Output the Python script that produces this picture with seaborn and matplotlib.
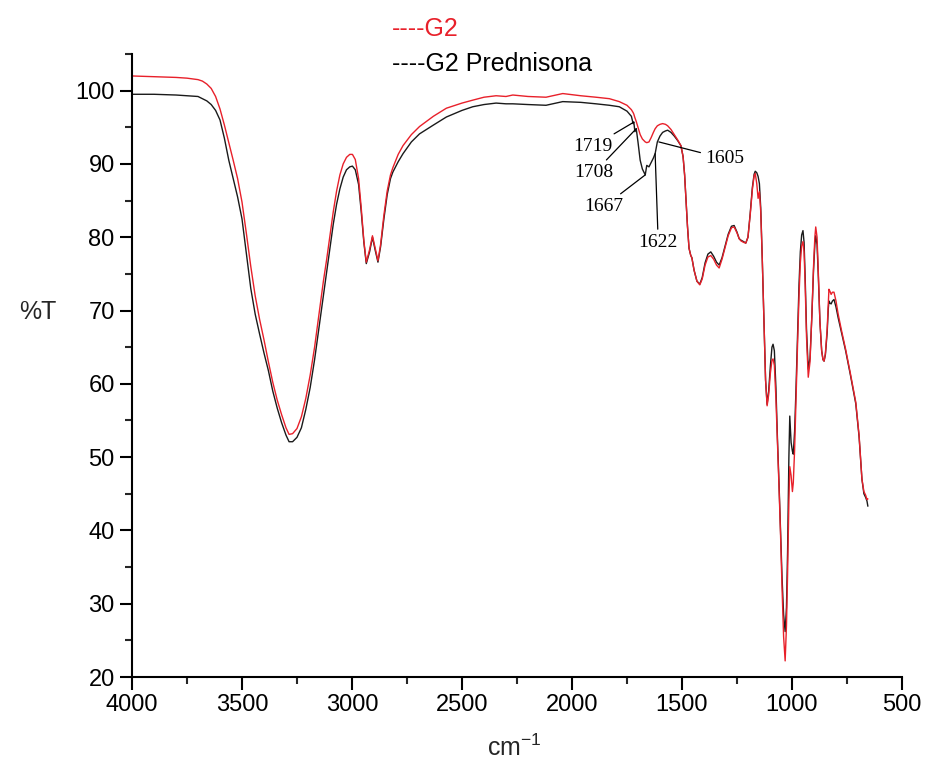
import numpy as np
import pandas as pd
import matplotlib
matplotlib.use('Agg')
import matplotlib.pyplot as plt
from matplotlib.ticker import MultipleLocator
import seaborn as sns

# IR spectra (wavenumber in cm-1, transmittance in %)
wavenumber = [4000, 3900, 3800, 3750, 3700, 3680, 3660, 3640, 3620, 3600,
              3580, 3560, 3540, 3520, 3500, 3480, 3460, 3440, 3420, 3400,
              3380, 3360, 3340, 3320, 3300, 3286, 3270, 3250, 3230, 3210,
              3190, 3170, 3150, 3130, 3115, 3100, 3085, 3070, 3055, 3040,
              3025, 3010, 2998,
              2985, 2970, 2958, 2946, 2935, 2920, 2907, 2895, 2882, 2870,
              2855, 2840, 2825, 2814, 2790, 2768, 2730, 2693,
              2630, 2571, 2500, 2451, 2400, 2345, 2300, 2269, 2200, 2118,
              2042, 1960, 1891, 1830, 1785, 1750, 1730,
              1722, 1719, 1714, 1708, 1700, 1690, 1680, 1667, 1660, 1650,
              1640, 1630, 1622, 1612, 1600, 1588, 1575, 1565, 1550, 1535,
              1520, 1505,
              1495, 1488, 1482, 1475, 1468, 1460, 1455, 1445, 1432, 1419,
              1408, 1395, 1382, 1369, 1356, 1343, 1331, 1318, 1305, 1290,
              1275, 1263, 1250, 1240, 1232, 1220, 1210, 1200, 1190, 1180,
              1172, 1167, 1160, 1154, 1148, 1142, 1135, 1127, 1120, 1113,
              1106, 1098, 1091, 1086, 1080, 1073, 1066, 1059, 1052, 1045,
              1038, 1031, 1025, 1020, 1014, 1010, 1004, 998, 994, 988,
              982, 975, 968, 962, 956, 950, 945, 940, 934, 926,
              918, 910, 902, 896, 892, 886, 880, 873, 865, 859,
              854, 848, 840, 835, 832, 827, 822, 816, 809, 800,
              790, 775, 756, 735, 710, 695, 682, 673, 665, 659,
              655]

t_g2 = [102.0, 101.9, 101.8, 101.7, 101.5, 101.3, 100.9, 100.3, 99.2, 97.5,
        95.3, 92.9, 90.5, 88.0, 84.8, 80.5, 76.0, 72.0, 68.8, 66.0,
        63.0, 60.2, 57.8, 55.8, 54.0, 53.1, 53.2, 53.9, 55.5, 58.0,
        61.2, 65.0, 69.5, 74.0, 77.0, 80.3, 83.5, 86.3, 88.5, 90.0,
        90.9, 91.3, 91.3,
        90.6, 88.0, 84.0, 79.5, 76.6, 78.3, 80.2, 78.6, 76.8, 79.0,
        83.0, 86.3, 88.5, 89.5, 91.3, 92.5, 94.0, 95.1,
        96.5, 97.6, 98.3, 98.7, 99.1, 99.3, 99.2, 99.4, 99.2, 99.1,
        99.6, 99.3, 99.1, 98.9, 98.5, 98.0, 97.4,
        97.0, 96.8, 96.3, 95.8, 95.0, 94.0, 93.4, 93.0, 92.9, 93.0,
        93.6, 94.3, 94.8, 95.2, 95.4, 95.5, 95.4, 95.2, 94.7, 94.0,
        93.3, 92.5,
        91.0, 88.5, 85.3, 81.5, 78.5, 77.5, 77.2, 75.5, 74.0, 73.5,
        74.3, 76.2, 77.3, 77.5, 77.0, 76.2, 75.8, 77.0, 78.5, 80.2,
        81.3, 81.4, 80.6, 79.8, 79.5, 79.3, 79.2, 80.0, 83.0, 86.5,
        88.4, 88.7, 87.3, 85.3, 86.2, 83.5, 77.0, 68.0, 60.5, 57.0,
        58.5, 61.5, 63.2, 63.4, 62.5, 58.0, 52.0, 46.0, 39.5, 32.0,
        25.5, 22.2, 27.0, 34.0, 44.0, 48.7, 47.5, 45.3, 46.5, 51.0,
        57.5, 65.0, 72.0, 76.5, 78.8, 79.4, 78.0, 73.5, 66.5, 60.9,
        63.0, 69.0, 76.0, 80.0, 81.4, 80.0, 75.0, 68.5, 64.5, 63.3,
        63.1, 64.2, 67.5, 71.0, 72.9, 72.6, 72.2, 72.5, 72.5, 71.3,
        69.5, 67.3, 64.7, 61.5, 57.5, 53.0, 47.0, 45.3, 44.8, 44.2,
        44.3]

t_g2_pred = [99.5, 99.5, 99.4, 99.3, 99.2, 98.9, 98.6, 98.1, 97.3, 96.0,
             93.5, 90.5, 88.0, 85.5, 82.5, 77.8, 73.0, 69.5, 66.8, 64.2,
             61.8, 59.0, 56.7, 54.7, 53.0, 52.1, 52.1, 52.7, 54.0, 56.5,
             59.5, 63.3, 67.7, 72.2, 75.3, 78.5, 81.8, 84.5, 86.6, 88.2,
             89.2, 89.6, 89.7,
             89.2, 87.2, 83.5, 79.3, 76.4, 78.0, 80.0, 78.3, 76.6, 78.7,
             82.5, 85.8, 88.0, 88.9, 90.3, 91.4, 93.0, 94.1,
             95.3, 96.4, 97.3, 97.8, 98.1, 98.3, 98.2, 98.2, 98.1, 98.0,
             98.5, 98.4, 98.2, 98.0, 97.8, 97.2, 96.5,
             95.5, 95.7, 94.4, 94.8, 93.0, 90.5, 89.3, 88.5, 89.8, 89.6,
             90.2, 90.8, 91.4, 93.0, 93.8, 94.3, 94.5, 94.6, 94.3, 93.8,
             93.2, 92.5,
             91.0, 88.5, 85.3, 81.5, 78.5, 77.5, 77.2, 75.5, 74.0, 73.6,
             74.5, 76.5, 77.7, 78.0, 77.4, 76.6, 76.2, 77.2, 78.7, 80.4,
             81.5, 81.6, 80.7, 79.8, 79.6, 79.4, 79.2, 80.0, 83.2, 86.8,
             88.6, 89.0, 88.8, 88.3, 87.3, 84.0, 77.0, 68.0, 60.5, 57.2,
             59.0, 62.5, 65.0, 65.4, 64.5, 59.5, 52.5, 46.5, 40.0, 33.5,
             28.5, 26.2, 29.5, 37.0, 50.0, 55.6, 52.0, 50.8, 50.4, 53.5,
             59.0, 66.0, 73.5, 78.0, 80.3, 80.9, 79.3, 74.5, 67.5, 62.0,
             63.5, 69.0, 75.5, 79.0, 80.2, 79.0, 74.5, 68.5, 64.5, 63.3,
             63.1, 64.0, 67.0, 70.2, 71.3, 71.0, 70.9, 71.3, 71.5, 70.5,
             69.0, 67.0, 64.5, 61.3, 57.3, 52.8, 47.0, 45.0, 44.5, 44.0,
             43.3]

# peak labels: (label, x of peak, y of peak, x of text, y of text, ha)
peak_labels = ['1719', '1708', '1667', '1622', '1605']
peak_x = [1719, 1708, 1667, 1622, 1605]
peak_y = [95.7, 94.8, 88.5, 91.4, 93.0]
label_x = [1815, 1810, 1765, 1608, 1395]
label_y = [92.4, 88.8, 84.2, 79.3, 90.7]
label_ha = ['right', 'right', 'right', 'center', 'left']

df = pd.concat([
    pd.DataFrame({'wn': wavenumber, 'T': t_g2_pred, 'sample': 'G2 Prednisona'}),
    pd.DataFrame({'wn': wavenumber, 'T': t_g2, 'sample': 'G2'}),
])

sns.set_theme(style='ticks')
plt.rcParams['font.family'] = ['Liberation Sans', 'DejaVu Sans']
plt.rcParams['mathtext.default'] = 'regular'

fig = plt.figure(figsize=(9.25, 7.71), dpi=100)
ax = fig.add_axes([0.1427, 0.1219, 0.8324, 0.8081])

sns.lineplot(data=df, x='wn', y='T', hue='sample',
             palette={'G2 Prednisona': '#1a1a1a', 'G2': '#e8202a'},
             estimator=None, sort=False, legend=False, linewidth=1.0, ax=ax)

ax.set_xlim(4000, 500)
ax.set_ylim(20, 105)
ax.xaxis.set_major_locator(MultipleLocator(500))
ax.xaxis.set_minor_locator(MultipleLocator(250))
ax.yaxis.set_major_locator(MultipleLocator(10))
ax.yaxis.set_minor_locator(MultipleLocator(5))
ax.tick_params(which='major', direction='out', length=9, width=1.5,
               labelsize=17, colors='black')
ax.tick_params(which='minor', direction='out', length=5, width=1.5)
for side in ['left', 'bottom']:
    ax.spines[side].set_linewidth(1.5)
    ax.spines[side].set_color('black')
sns.despine(ax=ax)

ax.set_xlabel(r'cm$^{-1}$', fontsize=18)
ax.set_ylabel('%T', fontsize=18, rotation=0, ha='center', va='center')
ax.xaxis.set_label_coords(0.497, -0.093)
ax.yaxis.set_label_coords(-0.122, 0.586)

for i in range(len(peak_labels)):
    ax.annotate(peak_labels[i], xy=(peak_x[i], peak_y[i]),
                xytext=(label_x[i], label_y[i]), ha=label_ha[i], va='center',
                fontsize=14, family='Liberation Serif', color='black',
                arrowprops=dict(arrowstyle='-', color='black', lw=0.9,
                                shrinkA=1, shrinkB=0))

fig.text(0.424, 0.963, '----G2', color='#e8202a', fontsize=18, ha='left', va='center')
fig.text(0.424, 0.917, '----G2 Prednisona', color='black', fontsize=18, ha='left', va='center')

fig.savefig('out.png', dpi=100)
